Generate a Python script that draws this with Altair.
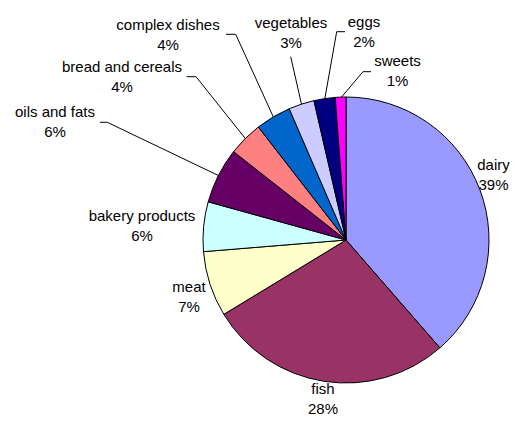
import math
import altair as alt
import pandas as pd

# ---- data ----
categories = ["dairy", "fish", "meat", "bakery products", "oils and fats",
              "bread and cereals", "complex dishes", "vegetables", "eggs", "sweets"]
values = [38.6, 27.7, 7.4, 5.6, 6.3, 3.9, 4.0, 2.9, 2.4, 1.2]
colors = ["#9999FF", "#993366", "#FFFFCC", "#CCFFFF", "#660066",
          "#FF8080", "#0066CC", "#CCCCFF", "#000080", "#FF00FF"]
pct_labels = [f"{int(v + 0.5)}%" for v in values]

# ---- layout (pixels in the chart area) ----
W, H = 502, 410
CX, CY, R = 338, 232, 143
label_pos = {
    "dairy": (485.5, 167), "fish": (315, 391), "meat": (181, 289),
    "bakery products": (134, 218), "oils and fats": (47, 114),
    "bread and cereals": (114, 68.5), "complex dishes": (160, 26.5),
    "vegetables": (283, 25.3), "eggs": (356, 23.7), "sweets": (389.5, 63.3),
}
leader_path = {
    "sweets": [(355, 63.7), (363, 63.7)],
    "eggs": [(328.7, 23.7), (337, 23.7)],
    "vegetables": [(282.7, 48.7)],
    "complex dishes": [(227.7, 26.3), (218, 26.3)],
    "bread and cereals": [(188, 68.7), (178.7, 68.7)],
    "oils and fats": [(99.3, 114.3), (92, 114.3)],
}

total = sum(values)
pie_df = pd.DataFrame({"cat": categories, "value": values, "idx": range(len(values))})

# leader lines start on the pie edge at each slice's mid angle
rows = []
cum = 0.0
for c, v in zip(categories, values):
    mid = (cum + v / 2) / total * 2 * math.pi
    cum += v
    if c in leader_path:
        sx = CX + (R - 1) * math.sin(mid)
        sy = CY - (R - 1) * math.cos(mid)
        pts = [(sx, sy)] + leader_path[c]
        for i, (px, py) in enumerate(pts):
            rows.append({"cat": c, "o": i, "x": px, "y": py})
line_df = pd.DataFrame(rows)

text_df = pd.DataFrame({
    "cat": categories,
    "label": [f"{c}\n{p}" for c, p in zip(categories, pct_labels)],
    "x": [label_pos[c][0] for c in categories],
    "y": [label_pos[c][1] for c in categories],
})

xs = alt.Scale(domain=[0, W], nice=False, zero=False)
ys = alt.Scale(domain=[0, H], nice=False, zero=False, reverse=True)

pie = alt.Chart(pie_df).mark_arc(outerRadius=R, stroke="black", strokeWidth=1).encode(
    theta=alt.Theta("value:Q", stack=True),
    color=alt.Color("cat:N", scale=alt.Scale(domain=categories, range=colors), legend=None),
    order=alt.Order("idx:Q"),
    x=alt.value(CX),
    y=alt.value(CY),
)

lines = alt.Chart(line_df).mark_line(color="black", strokeWidth=1).encode(
    x=alt.X("x:Q", scale=xs, axis=None),
    y=alt.Y("y:Q", scale=ys, axis=None),
    detail="cat:N",
    order="o:Q",
)

texts = alt.Chart(text_df).mark_text(
    font="Liberation Sans", fontSize=15, lineBreak="\n", lineHeight=20,
    align="center", baseline="middle", color="black", dy=-10,
).encode(
    x=alt.X("x:Q", scale=xs, axis=None),
    y=alt.Y("y:Q", scale=ys, axis=None),
    text="label:N",
)

chart = alt.layer(lines, pie, texts).properties(
    width=W, height=H, autosize=alt.AutoSizeParams(type="none"), padding=0
).configure_view(stroke=None)

chart.save("out.html", embed_options={"renderer": "svg", "actions": False})
